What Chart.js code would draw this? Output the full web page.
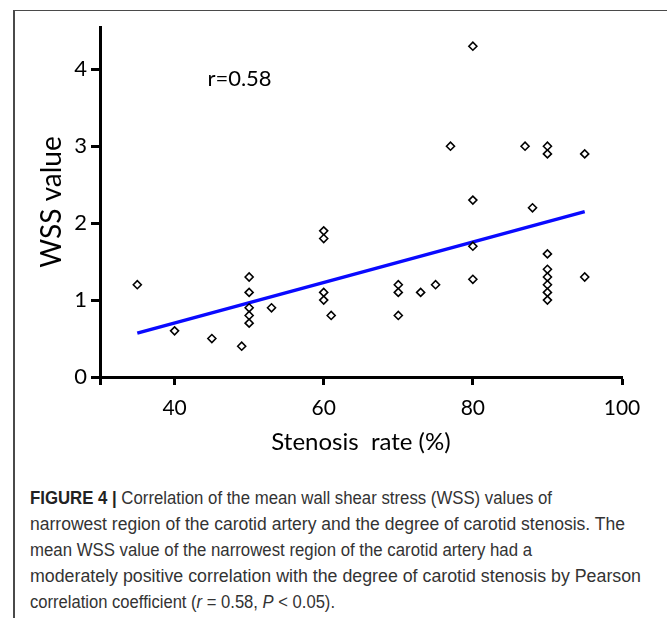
<!DOCTYPE html>
<html>
<head>
<meta charset="utf-8">
<script src="https://cdn.jsdelivr.net/npm/chart.js@4.4.1/dist/chart.umd.min.js"></script>
<style>
  html, body { margin: 0; padding: 0; background: #fff; }
  body { width: 667px; height: 618px; position: relative; overflow: hidden; }
  #frameLeft { position: absolute; left: 13px; top: 10px; width: 1.5px; height: 608px; background: #4a4a4a; }
  #frameTop { position: absolute; left: 13px; top: 9.5px; width: 654px; height: 1.5px; background: #4a4a4a; }
  #wrap { position: absolute; left: 0; top: 0; width: 667px; height: 470px; }
  #caption {
    position: absolute; left: 30px; top: 485px; width: 636px;
    font-family: "Liberation Sans", Arial, sans-serif; font-size: 17.5px; line-height: 26px;
    color: #333; white-space: nowrap;
  }
  #caption .ln { display: block; width: max-content; height: 26px; transform-origin: 0 50%; }
  #caption b { color: #222; }
</style>
</head>
<body>
<div id="frameLeft"></div>
<div id="frameTop"></div>
<div id="wrap"><canvas id="c" width="667" height="470"></canvas></div>
<div id="caption">
<span class="ln"><b>FIGURE 4 |</b> Correlation of the mean wall shear stress (WSS) values of</span>
<span class="ln">narrowest region of the carotid artery and the degree of carotid stenosis. The</span>
<span class="ln">mean WSS value of the narrowest region of the carotid artery had a</span>
<span class="ln">moderately positive correlation with the degree of carotid stenosis by Pearson</span>
<span class="ln">correlation coefficient (<i>r</i> = 0.58, <i>P</i> &lt; 0.05).</span>
</div>
<script>
// ---- data ----
const stenosisRate = [35,40,45,49,50,50,50,50,50,53,60,60,60,60,61,70,70,70,73,75,77,80,80,80,80,87,88,90,90,90,90,90,90,90,90,95,95];
const wssValue     = [1.2,0.6,0.5,0.4,1.3,1.1,0.9,0.8,0.7,0.9,1.9,1.8,1.1,1.0,0.8,1.2,1.1,0.8,1.1,1.2,3.0,4.3,2.3,1.7,1.27,3.0,2.2,3.0,2.9,1.6,1.4,1.3,1.2,1.1,1.0,2.9,1.3];
const fitLineX = [35, 95];
const fitLineY = [0.57, 2.15];
const xTickValues = [30, 40, 60, 80, 100];
const xTickLabels = ['', '40', '60', '80', '100'];
const yTickValues = [0, 1, 2, 3, 4];
const yTickLabels = ['0', '1', '2', '3', '4'];
const xTitle = 'Stenosis  rate (%)';
const yTitle = 'WSS value';
const rLabel = 'r=0.58';

// caption line widths (layout, px), a gentle fit to the reference line lengths
const captionLineWidths = [522, 595, 502, 611, 305];
document.querySelectorAll('#caption .ln').forEach((el, i) => {
  const w = el.getBoundingClientRect().width;
  if (w > 0) el.style.transform = 'scaleX(' + (captionLineWidths[i] / w) + ')';
});

const scatterPoints = stenosisRate.map((x, i) => ({ x: x, y: wssValue[i] }));
const linePoints = fitLineX.map((x, i) => ({ x: x, y: fitLineY[i] }));

const FONT = 'Lato, "Open Sans", sans-serif';

const rLabelPlugin = {
  id: 'rLabel',
  afterDatasetsDraw(chart) {
    const { ctx, scales } = chart;
    const px = scales.x.getPixelForValue(44.4);
    const py = scales.y.getPixelForValue(3.88);
    ctx.save();
    ctx.font = '22px ' + FONT;
    ctx.fillStyle = '#000';
    ctx.textAlign = 'left';
    ctx.textBaseline = 'middle';
    ctx.fillText(rLabel, px, py);
    ctx.restore();
  }
};

new Chart(document.getElementById('c'), {
  type: 'scatter',
  data: {
    datasets: [
      {
        type: 'scatter',
        data: scatterPoints,
        pointStyle: 'rectRot',
        pointRadius: 4,
        pointHoverRadius: 4,
        pointBackgroundColor: '#fff',
        pointBorderColor: '#000',
        pointBorderWidth: 1.6
      },
      {
        type: 'line',
        data: linePoints,
        borderColor: '#0a0aff',
        borderWidth: 3.5,
        pointRadius: 0,
        fill: false
      }
    ]
  },
  options: {
    responsive: false,
    animation: false,
    devicePixelRatio: 1,
    layout: { padding: { left: 0, top: 27, right: 45, bottom: 0 } },
    plugins: { legend: { display: false }, tooltip: { enabled: false } },
    scales: {
      x: {
        type: 'linear',
        min: 30, max: 100,
        afterFit(s) { s.height = 93; },
        afterBuildTicks(s) { s.ticks = xTickValues.map(v => ({ value: v })); },
        ticks: {
          autoSkip: false, maxRotation: 0,
          color: '#000', padding: 11,
          font: { family: FONT, size: 21 },
          callback(v) { return xTickLabels[xTickValues.indexOf(v)]; }
        },
        grid: { display: true, drawOnChartArea: false, drawTicks: true, tickLength: 8, tickWidth: 3, tickColor: '#000' },
        border: { display: true, color: '#000', width: 3 },
        title: { display: true, text: xTitle, color: '#000', font: { family: FONT, size: 24 }, padding: { top: 0, bottom: 13 } }
      },
      y: {
        type: 'linear',
        min: 0, max: 4.55,
        afterFit(s) { s.width = 100; },
        afterBuildTicks(s) { s.ticks = yTickValues.map(v => ({ value: v })); },
        ticks: {
          autoSkip: false,
          color: '#000', padding: 4,
          font: { family: FONT, size: 22 },
          callback(v) { return yTickLabels[yTickValues.indexOf(v)]; }
        },
        grid: { display: true, drawOnChartArea: false, drawTicks: true, tickLength: 9, tickWidth: 3, tickColor: '#000' },
        border: { display: true, color: '#000', width: 3 },
        title: { display: true, text: yTitle, color: '#000', font: { family: FONT, size: 28 }, padding: { top: 35, bottom: 0 } }
      }
    }
  },
  plugins: [rLabelPlugin]
});
</script>
</body>
</html>
